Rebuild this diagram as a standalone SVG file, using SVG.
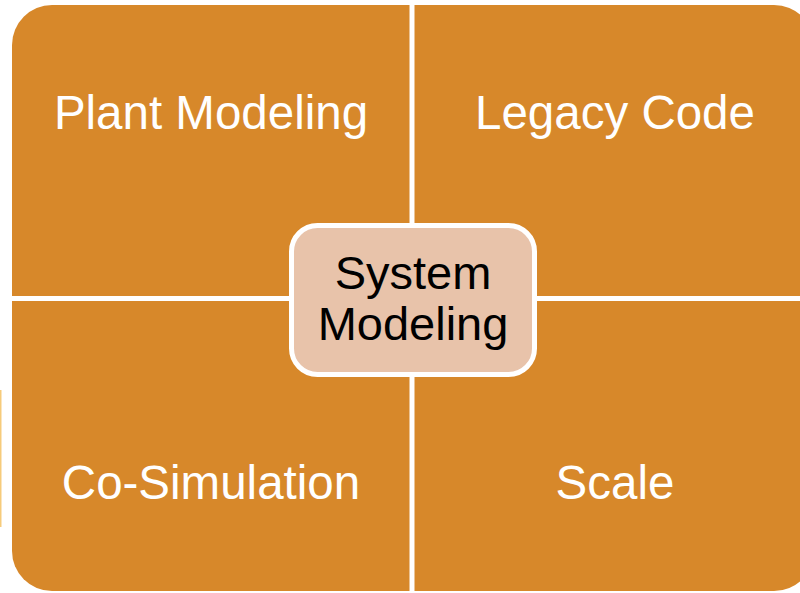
<svg xmlns="http://www.w3.org/2000/svg" width="800" height="593" viewBox="0 0 800 593">
<style>
.q{fill:#D7882A;}
.ql{font-family:"Liberation Sans",Arial,sans-serif;font-size:47.5px;fill:#FFFFFF;text-anchor:middle;}
.c{fill:#E8C3AA;stroke:#FFFFFF;stroke-width:5;}
.cl{font-family:"Liberation Sans",Arial,sans-serif;font-size:47px;fill:#000000;text-anchor:middle;}
</style>
<rect x="0" y="0" width="800" height="593" fill="#FFFFFF"/>
<rect x="0" y="390" width="1.5" height="137" fill="#F4BE5A" opacity="0.8"/>
<g id="plant-modeling">
<path class="q" d="M12,296 L12,45 A40,40 0 0 1 52,5 L409.5,5 L409.5,296 Z"/>
<text class="ql" x="211" y="129">Plant Modeling</text>
</g>
<g id="legacy-code">
<path class="q" d="M414.5,5 L774,5 A40,40 0 0 1 814,45 L814,296 L414.5,296 Z"/>
<text class="ql" x="615" y="129">Legacy Code</text>
</g>
<g id="co-simulation">
<path class="q" d="M12,301 L409.5,301 L409.5,591 L52,591 A40,40 0 0 1 12,551 Z"/>
<text class="ql" x="211" y="499">Co-Simulation</text>
</g>
<g id="scale">
<path class="q" d="M414.5,301 L814,301 L814,551 A40,40 0 0 1 774,591 L414.5,591 Z"/>
<text class="ql" x="615" y="499">Scale</text>
</g>
<g id="connectors"></g>
<g id="system-modeling">
<rect class="c" x="291.5" y="225.5" width="243" height="149" rx="26" ry="26"/>
<text class="cl" x="413" y="289">System</text>
<text class="cl" x="413" y="340">Modeling</text>
</g>
</svg>
